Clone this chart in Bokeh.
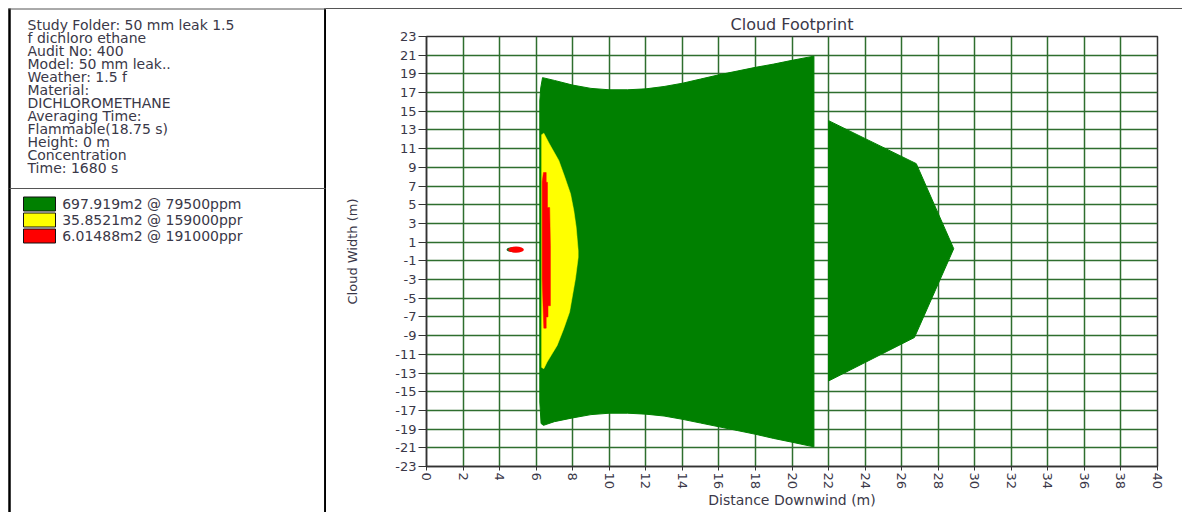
from bokeh.plotting import figure
from bokeh.layouts import row
from bokeh.models import Range1d, FixedTicker
from bokeh.core.properties import value
from bokeh.embed import file_html
from bokeh.resources import INLINE

# ---------------- data ----------------
info_lines = ["Study Folder: 50 mm leak 1.5", "f dichloro ethane", "Audit No: 400",
              "Model: 50 mm leak..", "Weather: 1.5 f", "Material:", "DICHLOROMETHANE",
              "Averaging Time:", "Flammable(18.75 s)", "Height: 0 m", "Concentration",
              "Time: 1680 s"]
legend_labels = ["697.919m2 @ 79500ppm", "35.8521m2 @ 159000ppr", "6.01488m2 @ 191000ppr"]
legend_colors = ["#008000", "#ffff00", "#ff0000"]

x_ticks = list(range(0, 41, 2))
y_ticks = list(range(-23, 24, 2))

# 79500 ppm contour (main cloud)
cloud_main_x = [6.2, 6.25, 6.35, 7, 8, 9, 10, 11, 12, 13, 14, 15, 16, 17, 18, 19, 20, 21.2,
                21.2, 20, 19, 18, 17, 16, 15, 14, 13, 12, 11, 10, 9, 8, 7, 6.4, 6.27, 6.2]
cloud_main_y = [16.1, 17.5, 18.6, 18.3, 17.8, 17.45, 17.3, 17.3, 17.4, 17.65, 18.0, 18.45, 18.9,
                19.3, 19.7, 20.05, 20.45, 20.9,
                -20.9, -20.4, -20.0, -19.55, -19.15, -18.75, -18.35, -17.95, -17.6, -17.4,
                -17.3, -17.3, -17.45, -17.8, -18.2, -18.6, -18.4, -16.1]
# 79500 ppm contour (downwind part)
cloud_far_x = [22.0, 26.8, 28.85, 26.7, 22.0]
cloud_far_y = [14.0, 9.4, 0.3, -9.2, -13.85]
# 159000 ppm contour
yellow_x = [6.3, 6.42, 6.73, 7.24, 7.57, 7.88, 8.06, 8.19, 8.3, 8.3, 8.15, 7.83, 7.51, 7.15, 6.6, 6.42, 6.3]
yellow_y = [12.5, 12.66, 11.5, 9.74, 7.95, 6.18, 4.39, 2.6, 0.11, -0.65, -2.9, -6.48, -8.26, -10.05, -11.83, -12.54, -12.4]
# 191000 ppm contour
red_x = [6.33, 6.4, 6.55, 6.55, 6.62, 6.62, 6.74, 6.78, 6.78, 6.65, 6.65, 6.55, 6.55, 6.42, 6.38, 6.33]
red_y = [7.5, 8.45, 8.45, 7.4, 7.4, 4.7, 4.7, 0.6, -5.8, -5.8, -7.0, -7.0, -8.2, -8.2, -6.0, -3.0]
# small source blob
blob_x = [4.78, 4.9]
blob_y = [0.2, 0.2]
blob_w = [0.8, 0.85]
blob_h = [0.55, 0.65]
blob_c = ["#1f6a1f", "#ff0000"]

TXT = "#3a3848"
FONT = "DejaVu Sans"
GRID = "#2e6e2e"

# ---------------- left info panel (pixel coordinates) ----------------
lp = figure(width=326, height=512, x_range=Range1d(0, 326), y_range=Range1d(512, 0),
            toolbar_location=None, output_backend="svg", x_axis_type=None, y_axis_type=None,
            min_border=0, min_border_left=0, min_border_right=0, min_border_top=0, min_border_bottom=0,
            outline_line_color=None, background_fill_color="white", frame_align=False)
lp.xgrid.visible = False
lp.ygrid.visible = False
lp.segment(x0=[9, 324.8, 8, 9], y0=[8, 8, 8.5, 188], x1=[9, 324.8, 326, 325], y1=[512, 512, 8.5, 188],
           line_color=["#000000", "#000000", "#555555", "#555555"], line_width=[2.5, 2.5, 1, 1])
lp.text(x=[27] * len(info_lines), y=[24 + 13.05 * i for i in range(len(info_lines))], text=info_lines,
        text_font=value(FONT), text_font_size=value("14px"), text_baseline="middle", text_color=TXT)
ly = [203.5 + 16 * i for i in range(len(legend_labels))]
lp.rect(x=[39] * 3, y=ly, width=32, height=14, fill_color=legend_colors, line_color="#111111", line_width=1)
lp.text(x=[61.7] * 3, y=ly, text=legend_labels, text_font=value(FONT), text_font_size=value("14px"),
        text_baseline="middle", text_color=TXT)

# ---------------- chart ----------------
p = figure(width=856, height=503, x_range=Range1d(0, 40), y_range=Range1d(-23, 23),
           toolbar_location=None, output_backend="svg", title="Cloud Footprint",
           min_border_left=100, min_border_right=25, min_border_top=27, min_border_bottom=46,
           background_fill_color="white", outline_line_color="#333333", outline_line_width=1.5,
           frame_align=False,
           styles={"margin-top": "8px", "border-top": "1px solid #555555"})
p.title.align = "center"
p.title.text_font = FONT
p.title.text_font_size = "16px"
p.title.text_font_style = "normal"
p.title.text_color = TXT
p.title.standoff = 6

p.patches(xs=[cloud_main_x, cloud_far_x], ys=[cloud_main_y, cloud_far_y],
          fill_color=legend_colors[0], line_color=legend_colors[0], line_width=1)
p.patch(yellow_x, yellow_y, fill_color=legend_colors[1], line_color=legend_colors[1], line_width=0.5)
p.patch(red_x, red_y, fill_color=legend_colors[2], line_color=legend_colors[2], line_width=0.5)
p.ellipse(x=blob_x, y=blob_y, width=blob_w, height=blob_h, fill_color=blob_c, line_color=None)

for ax, ticks in ((p.xaxis, x_ticks), (p.yaxis, y_ticks)):
    ax.ticker = FixedTicker(ticks=ticks)
    ax.major_label_overrides = {t: str(t) for t in ticks}
    ax.major_label_text_font = FONT
    ax.major_label_text_font_size = "13px"
    ax.major_label_text_color = TXT
    ax.axis_line_color = "#333333"
    ax.axis_line_width = 1.5
    ax.major_tick_line_color = "#333333"
    ax.major_tick_in = 0
    ax.minor_tick_line_color = None
    ax.axis_label_text_font = FONT
    ax.axis_label_text_font_style = "normal"
    ax.axis_label_text_color = TXT

p.xaxis.axis_label = "Distance Downwind (m)"
p.xaxis.axis_label_text_font_size = "14px"
p.xaxis.major_label_orientation = "vertical"
p.xaxis.major_tick_out = 4
p.xaxis.major_label_standoff = 2
p.xaxis.axis_label_standoff = 0

p.yaxis.axis_label = "Cloud Width (m)"
p.yaxis.axis_label_text_font_size = "13px"
p.yaxis.major_tick_out = 8
p.yaxis.major_label_standoff = 2
p.yaxis.axis_label_standoff = 32

for g, ticks in ((p.xgrid, x_ticks), (p.ygrid, y_ticks)):
    g.ticker = FixedTicker(ticks=ticks)
    g.grid_line_color = GRID
    g.grid_line_width = 1.5
    g.grid_line_alpha = 1.0

layout = row(lp, p, spacing=0)
open("out.html", "w").write(file_html(layout, INLINE))
